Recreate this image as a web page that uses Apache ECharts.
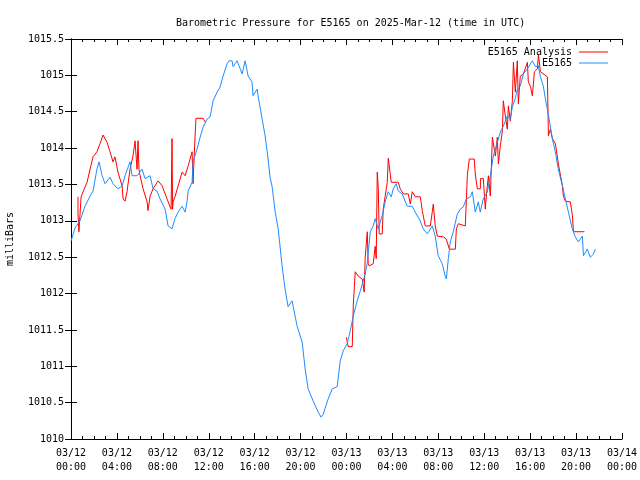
<!DOCTYPE html>
<html><head><meta charset="utf-8">
<script src="https://cdn.jsdelivr.net/npm/echarts@6/dist/echarts.min.js"></script>
<style>html,body{margin:0;padding:0;background:#fff}#c{width:640px;height:480px}</style>
</head><body><div id="c"></div>
<script>
const titleText = 'Barometric Pressure for E5165 on 2025-Mar-12 (time in UTC)';
const seriesNames = ['E5165 Analysis', 'E5165'];
const xTickLabels = ['03/12\n00:00','03/12\n04:00','03/12\n08:00','03/12\n12:00','03/12\n16:00','03/12\n20:00','03/13\n00:00','03/13\n04:00','03/13\n08:00','03/13\n12:00','03/13\n16:00','03/13\n20:00','03/14\n00:00'];
const yTickLabels = ['1010','1010.5','1011','1011.5','1012','1012.5','1013','1013.5','1014','1014.5','1015','1015.5'];

// Observed (hours since 03/12 00:00 UTC, mb)
const obsHours = [0,0.35,0.78,1.22,1.66,1.92,2.26,2.44,2.71,2.97,3.40,3.66,4.09,4.45,4.71,5.14,5.32,5.75,6.19,6.45,6.89,7.15,7.49,7.76,8.20,8.46,8.80,9.06,9.33,9.68,9.94,10.11,10.20,10.55,10.63,10.99,11.25,11.51,11.86,12.12,12.38,12.73,12.99,13.25,13.60,13.77,14.03,14.12,14.47,14.56,14.91,15.17,15.43,15.77,15.86,16.22,16.30,16.65,16.91,17.17,17.34,17.52,17.79,18.05,18.39,18.65,18.91,19.26,19.36,19.70,20.14,20.40,20.66,21.10,21.53,21.79,21.97,22.40,22.76,23.19,23.45,23.71,24.06,24.33,24.59,24.93,25.19,25.63,25.80,26.07,26.33,26.50,26.76,27.11,27.37,27.63,27.90,28.07,28.33,28.51,28.85,29.29,29.73,29.99,30.42,30.68,31.04,31.47,31.73,31.99,32.34,32.60,32.70,32.87,33.04,33.30,33.65,33.91,34.17,34.44,34.79,34.96,35.22,35.48,35.65,35.91,36.27,36.53,36.79,37.14,37.40,37.66,38.01,38.27,38.44,38.70,38.88,39.14,39.41,39.75,40.19,40.45,40.71,40.88,41.15,41.32,41.58,41.93,42.19,42.45,42.81,43.07,43.33,43.67,43.93,44.19,44.55,44.64,44.98,45.24,45.50,45.68];
const obsValues = [1012.72,1012.90,1013.00,1013.20,1013.34,1013.41,1013.71,1013.81,1013.62,1013.51,1013.60,1013.51,1013.44,1013.48,1013.62,1013.81,1013.62,1013.62,1013.71,1013.58,1013.62,1013.44,1013.41,1013.30,1013.16,1012.93,1012.89,1013.03,1013.12,1013.20,1013.12,1013.26,1013.41,1013.53,1013.81,1013.99,1014.15,1014.29,1014.40,1014.43,1014.65,1014.77,1014.84,1014.99,1015.16,1015.20,1015.20,1015.12,1015.20,1015.18,1015.02,1015.20,1014.99,1014.91,1014.72,1014.81,1014.72,1014.40,1014.17,1013.85,1013.60,1013.47,1013.12,1012.89,1012.38,1012.06,1011.82,1011.90,1011.82,1011.55,1011.33,1010.96,1010.69,1010.52,1010.37,1010.30,1010.34,1010.55,1010.69,1010.72,1011.07,1011.21,1011.31,1011.49,1011.69,1011.90,1012.03,1012.27,1012.41,1012.85,1012.93,1013.03,1012.89,1013.07,1013.26,1013.40,1013.33,1013.44,1013.51,1013.41,1013.37,1013.20,1013.20,1013.12,1013.00,1012.89,1012.82,1012.93,1012.79,1012.52,1012.41,1012.24,1012.20,1012.48,1012.71,1012.85,1013.09,1013.16,1013.19,1013.30,1013.33,1013.40,1013.12,1013.26,1013.12,1013.30,1013.40,1013.62,1013.89,1014.08,1014.22,1014.30,1014.44,1014.40,1014.56,1014.68,1014.81,1014.85,1015.02,1015.09,1015.20,1015.12,1015.13,1014.99,1014.85,1014.68,1014.47,1014.13,1013.95,1013.71,1013.48,1013.30,1013.12,1012.89,1012.78,1012.71,1012.79,1012.52,1012.61,1012.50,1012.54,1012.61];

// Analysis (null = gap)
const anaHours = [0.61,0.61,0.69,0.88,1.05,1.40,1.66,1.92,2.26,2.53,2.79,3.14,3.40,3.66,3.83,4.09,4.45,4.54,4.71,4.88,5.14,5.40,5.58,5.75,5.84,5.92,6.02,6.28,6.63,6.71,6.89,7.15,7.59,7.94,8.37,8.63,8.72,8.80,8.85,8.89,9.06,9.33,9.68,9.94,10.20,10.55,10.63,10.81,10.89,11.51,11.68,11.77,
  12.0,
  23.98,24.15,24.50,24.59,24.76,24.93,25.02,25.37,25.54,25.63,25.81,25.89,25.98,26.33,26.50,26.59,26.68,26.77,26.85,27.11,27.20,27.55,27.64,27.81,27.90,28.51,28.68,28.95,29.38,29.56,29.73,29.99,30.43,30.60,30.86,31.30,31.47,31.56,31.73,31.91,32.43,32.69,32.96,33.48,33.57,33.74,34.35,34.45,34.53,34.70,35.13,35.22,35.40,35.66,35.67,35.92,36.09,36.18,36.36,36.53,36.71,36.79,36.97,37.14,37.23,37.40,37.58,37.66,37.84,38.01,38.10,38.27,38.45,38.54,38.71,38.88,38.97,39.14,39.41,39.76,39.84,40.02,40.19,40.37,40.63,40.72,40.89,41.50,41.59,41.76,41.94,42.20,42.46,42.81,42.89,43.07,43.50,43.68,43.77,44.73];
const anaValues = [1013.33,1013.10,1012.85,1013.33,1013.40,1013.53,1013.71,1013.88,1013.95,1014.06,1014.18,1014.08,1013.95,1013.81,1013.88,1013.67,1013.48,1013.30,1013.27,1013.40,1013.71,1013.89,1014.10,1013.71,1014.10,1013.71,1013.62,1013.44,1013.26,1013.14,1013.34,1013.44,1013.55,1013.48,1013.30,1013.19,1013.16,1014.13,1013.16,1013.26,1013.33,1013.48,1013.67,1013.62,1013.75,1013.95,1013.51,1014.17,1014.41,1014.41,1014.36,1014.36,
  null,
  1011.40,1011.27,1011.27,1011.83,1012.30,1012.31,1012.24,1012.20,1012.02,1012.50,1012.85,1012.41,1012.38,1012.41,1012.65,1012.48,1013.67,1013.44,1012.82,1012.82,1013.16,1013.53,1013.86,1013.86,1013.53,1013.53,1013.44,1013.37,1013.37,1013.23,1013.40,1013.33,1013.33,1013.14,1012.93,1012.93,1013.12,1013.23,1012.93,1012.79,1012.78,1012.75,1012.61,1012.61,1012.89,1012.96,1012.93,1012.93,1013.64,1013.85,1013.85,1013.64,1013.44,1013.44,1013.58,1013.58,1013.16,1013.34,1013.62,1013.34,1014.15,1014.13,1013.89,1014.15,1013.78,1014.03,1014.24,1014.65,1014.44,1014.26,1014.58,1014.37,1014.65,1015.18,1014.77,1015.20,1014.61,1014.99,1015.02,1015.18,1014.91,1014.85,1014.72,1015.05,1015.09,1015.29,1015.05,1014.98,1014.17,1014.26,1014.13,1014.06,1013.78,1013.48,1013.34,1013.27,1013.26,1013.07,1012.85,1012.85];

const FONT = 'DejaVu Sans Mono';
const chart = echarts.init(document.getElementById('c'), null, {renderer: 'canvas'});
const xBase = {
  type: 'value', min: 0, max: 48, interval: 4,
  axisLine: {show: true, lineStyle: {color: '#000', width: 1}},
  axisTick: {show: true, inside: true, length: 6, lineStyle: {color: '#000'}},
  minorTick: {show: true, splitNumber: 4, length: 3, lineStyle: {color: '#000'}},
  splitLine: {show: false}
};
const yBase = {
  type: 'value', min: 1010, max: 1015.5, interval: 0.5,
  axisLine: {show: true, lineStyle: {color: '#000', width: 1}},
  axisTick: {show: true, inside: true, length: 6, lineStyle: {color: '#000'}},
  splitLine: {show: false}
};
chart.setOption({
  animation: false,
  backgroundColor: '#fff',
  title: {
    text: titleText, left: 171, top: 13,
    textStyle: {fontFamily: FONT, fontSize: 10, fontWeight: 'normal', color: '#000'}
  },
  legend: {
    orient: 'vertical', right: 27, top: 42, align: 'right',
    itemWidth: 29, itemHeight: 1, itemGap: 1, icon: 'rect',
    textStyle: {fontFamily: FONT, fontSize: 10, color: '#000', padding: [0, 2, 0, 0]},
    data: seriesNames
  },
  grid: {left: 71, right: 18, top: 39, bottom: 41, show: false, containLabel: false, outerBoundsMode: 'none'},
  xAxis: [
    Object.assign({}, xBase, {
      position: 'bottom',
      axisLabel: {show: true, margin: 7, fontFamily: FONT, fontSize: 10, color: '#000', lineHeight: 14,
        formatter: v => xTickLabels[Math.round(v / 4)]}
    }),
    Object.assign({}, xBase, {position: 'top', axisLabel: {show: false}})
  ],
  yAxis: [
    Object.assign({}, yBase, {
      position: 'left',
      name: 'milliBars', nameLocation: 'middle', nameRotate: 90, nameGap: 56,
      nameTextStyle: {fontFamily: FONT, fontSize: 10, color: '#000'},
      axisLabel: {show: true, margin: 7, fontFamily: FONT, fontSize: 10, color: '#000',
        formatter: v => yTickLabels[Math.round((v - 1010) / 0.5)]}
    }),
    Object.assign({}, yBase, {position: 'right', axisLabel: {show: false}})
  ],
  series: [
    {
      name: seriesNames[0], type: 'line', symbol: 'none', xAxisIndex: 0, yAxisIndex: 0,
      connectNulls: false,
      lineStyle: {color: '#ff0000', width: 1}, itemStyle: {color: '#ff0000'},
      data: anaHours.map((h, i) => [h, anaValues[i] === null ? '-' : anaValues[i]])
    },
    {
      name: seriesNames[1], type: 'line', symbol: 'none', xAxisIndex: 0, yAxisIndex: 0,
      lineStyle: {color: '#1e8cff', width: 1}, itemStyle: {color: '#1e8cff'},
      data: obsHours.map((h, i) => [h, obsValues[i]])
    }
  ]
});
</script>
</body></html>
